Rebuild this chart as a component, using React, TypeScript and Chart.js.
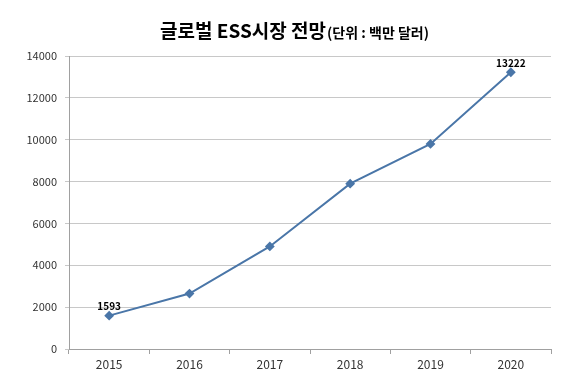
import React, { useEffect, useRef } from "react";
import { Chart, registerables } from "chart.js";

Chart.register(...registerables);

const categories = ["2015", "2016", "2017", "2018", "2019", "2020"];
const marketValues = [1593, 2650, 4900, 7900, 9800, 13222];
const labeledIndexes = [0, 5];
const titleMain = "글로벌 ESS시장 전망";
const titleSub = "(단위 : 백만 달러)";

const FONT = "'Noto Sans CJK KR', 'Noto Sans', sans-serif";

const titlePlugin = {
  id: "mixedTitle",
  afterDraw(chart: any) {
    const ctx = chart.ctx;
    ctx.save();
    ctx.fillStyle = "#000";
    ctx.textBaseline = "alphabetic";
    ctx.textAlign = "left";
    ctx.font = `bold 19px ${FONT}`;
    const w1 = ctx.measureText(titleMain).width;
    ctx.font = `bold 14px ${FONT}`;
    const w2 = ctx.measureText(titleSub).width;
    const start = 294 - (w1 + w2) / 2;
    ctx.font = `bold 19px ${FONT}`;
    ctx.fillText(titleMain, start, 38);
    ctx.font = `bold 14px ${FONT}`;
    ctx.fillText(titleSub, start + w1 + 1, 38);
    ctx.restore();
  },
};

const labelPlugin = {
  id: "pointLabels",
  afterDatasetsDraw(chart: any) {
    const ctx = chart.ctx;
    const meta = chart.getDatasetMeta(0);
    ctx.save();
    ctx.font = `bold 10px ${FONT}`;
    ctx.fillStyle = "#000";
    ctx.textAlign = "center";
    ctx.textBaseline = "bottom";
    labeledIndexes.forEach((i) => {
      const pt = meta.data[i];
      ctx.fillText(String(marketValues[i]), pt.x, pt.y - 4);
    });
    ctx.restore();
  },
};

export default function App() {
  const ref = useRef<HTMLCanvasElement>(null);
  useEffect(() => {
    const chart = new Chart(ref.current!, {
      type: "line",
      data: {
        labels: categories,
        datasets: [
          {
            data: marketValues,
            borderColor: "#4a76a8",
            backgroundColor: "#4a76a8",
            borderWidth: 2,
            pointStyle: "rectRot",
            pointRadius: 3.5,
            pointHoverRadius: 3.5,
            tension: 0,
          },
        ],
      },
      options: {
        responsive: false,
        animation: false,
        layout: { padding: { left: 0, right: 37, top: 56, bottom: 0 } },
        plugins: {
          legend: { display: false },
          title: { display: false },
          tooltip: { enabled: false },
        },
        scales: {
          x: {
            offset: true,
            afterFit: (s: any) => {
              s.height = 30;
            },
            grid: {
              offset: true,
              drawOnChartArea: false,
              drawTicks: true,
              tickLength: 5,
              color: "#a0a0a0",
            },
            border: { color: "#a0a0a0" },
            ticks: {
              padding: 3,
              color: "#333333",
              font: { family: FONT, size: 12 },
            },
          },
          y: {
            min: 0,
            max: 14000,
            afterFit: (s: any) => {
              s.width = 69;
            },
            ticks: {
              stepSize: 2000,
              padding: 8,
              color: "#333333",
              font: { family: FONT, size: 11 },
              callback: (v: any) => String(v),
            },
            grid: {
              color: "#c8c8c8",
              tickLength: 4,
              drawTicks: true,
            },
            border: { color: "#a0a0a0" },
          },
        },
      },
      plugins: [titlePlugin, labelPlugin],
    });
    return () => chart.destroy();
  }, []);
  return (
    <div style={{ position: "fixed", left: 0, top: 0, width: 588, height: 379, background: "#fff" }}>
      <canvas ref={ref} width={588} height={379} />
    </div>
  );
}
